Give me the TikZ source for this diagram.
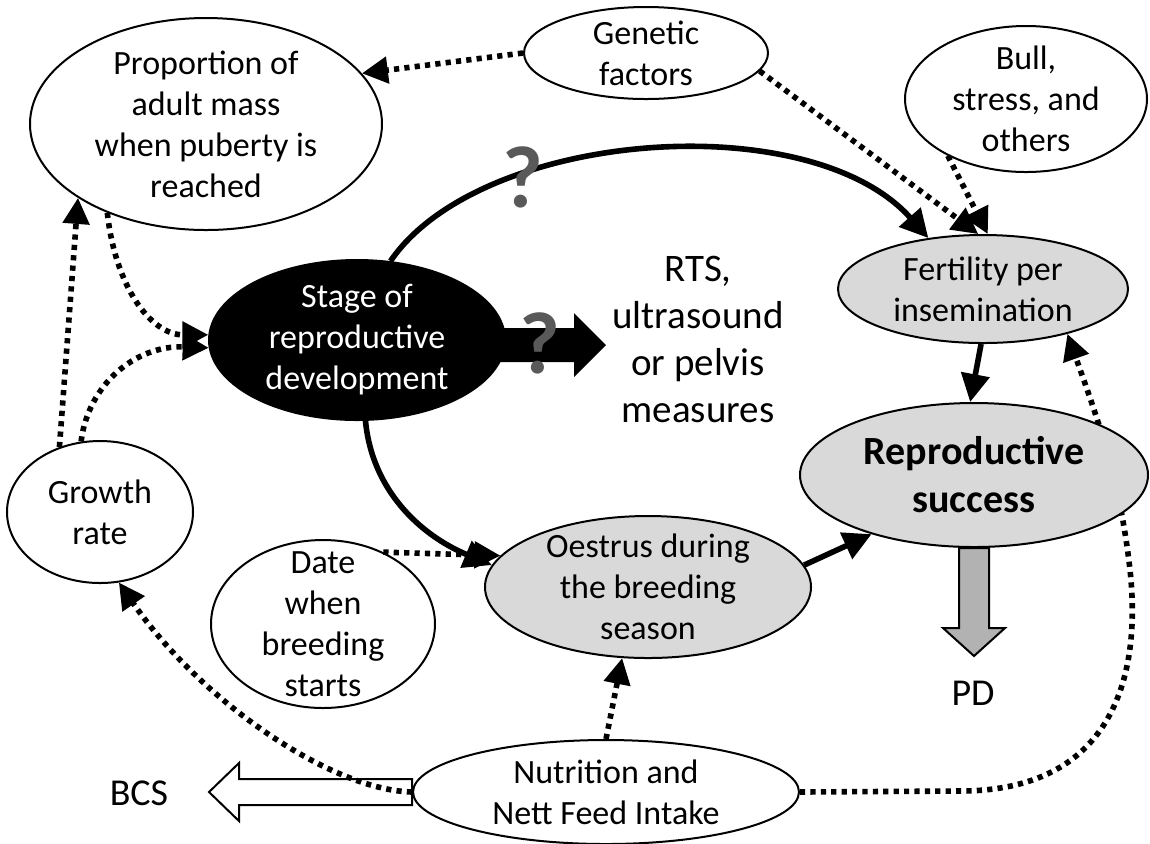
\documentclass[tikz,border=0pt]{standalone}
\usepackage{fontspec}
\setmainfont{Carlito}
\usetikzlibrary{positioning, arrows.meta, shapes.geometric, calc, backgrounds}

\begin{document}
\begin{tikzpicture}[
  x=0.5pt, y=0.5pt,
  every node/.style={align=center, font=\fontsize{17}{20.5}\selectfont},
  oval/.style={ellipse, draw, line width=1pt, fill=white, inner sep=-20pt},
  shaded/.style={oval, fill=black!15},
  arrow/.style={-{Triangle[length=14pt,width=14pt]}, line width=2.8pt},
  dotarrow/.style={-{Triangle[length=13pt,width=13pt]}, line width=2.8pt, dash pattern=on 2.6pt off 2.6pt},
  qmark/.style={font=\fontsize{44}{44}\selectfont\bfseries, text=black!65}
]
\useasboundingbox (0,0) rectangle (1150,-843);

\node[oval, minimum width=176pt, minimum height=106pt] (prop) at (206,-124) {Proportion of\\adult mass\\when puberty is\\reached};
\node[oval, minimum width=122pt, minimum height=46pt] (gen) at (646,-53) {Genetic\\factors};
\node[oval, minimum width=121pt, minimum height=73pt] (bull) at (1026,-99) {Bull,\\stress, and\\others};
\node[shaded, minimum width=145pt, minimum height=54pt] (fert) at (983,-289) {Fertility per\\insemination};
\node[shaded, minimum width=174pt, minimum height=72pt, font=\fontsize{20}{24}\selectfont\bfseries] (succ) at (974,-475) {Reproductive\\success};
\node[oval, fill=black, text=white, minimum width=148pt, minimum height=80pt] (stage) at (357,-340) {Stage of\\reproductive\\development};
\node[shaded, minimum width=163pt, minimum height=71pt] (oest) at (648,-587) {Oestrus during\\the breeding\\season};
\node[oval, minimum width=93pt, minimum height=71pt] (grow) at (100,-512) {Growth\\rate};
\node[oval, minimum width=112pt, minimum height=84pt] (date) at (323,-624) {Date\\when\\breeding\\starts};
\node[oval, minimum width=193pt, minimum height=52pt] (nutr) at (606,-792) {Nutrition and\\Nett Feed Intake};

\node[font=\fontsize{19.5}{23.5}\selectfont] (rts) at (698,-339) {RTS,\\ultrasound\\or pelvis\\measures};
\node[font=\fontsize{19}{23}\selectfont] (bcs) at (139,-793) {BCS};
\node[font=\fontsize{19}{23}\selectfont] (pd) at (973,-693) {PD};

\begin{scope}[on background layer]
\draw[dotarrow] (nutr.east) -- (960,-791) .. controls (1110,-791) and (1142,-680) .. (1130,-570) .. controls (1120,-480) and (1098,-420) .. (fert.-28);
\end{scope}

\fill ($(stage.east)+(-10,12)$) -- ++(78,0) -- ++(0,15) -- ++(32,-32) -- ++(-32,-32) -- ++(0,15) -- ++(-78,0) -- cycle;
\draw[line width=1pt, fill=black!30] ($(succ.south)+(-15,0)$) -- ++(0,-80) -- ++(-16,0) -- ++(31,-28) -- ++(31,28) -- ++(-16,0) -- ++(0,80) -- cycle;
\draw[line width=1pt, fill=white] ($(nutr.west)+(0,13)$) -- ++(-173,0) -- ++(0,16) -- ++(-30,-29) -- ++(30,-29) -- ++(0,16) -- ++(173,0) -- cycle;

\draw[arrow] (stage.67) .. controls (480,-130) and (810,-105) .. (fert.137);
\draw[arrow] (stage.276) .. controls (372,-490) and (420,-535) .. (oest.172);
\draw[arrow] (oest.8) -- (succ.210);
\draw[arrow] (fert.268) -- (succ.93);

\draw[dotarrow] (gen.180) -- (prop.18);
\draw[dotarrow] (gen.-9) -- (fert.95);
\draw[dotarrow] (bull.216) -- (fert.85);
\draw[dotarrow] (date.50) -- (oest.168);
\draw[dotarrow] (nutr.north) -- (oest.250);
\draw[dotarrow] (nutr.west) .. controls (330,-790) and (200,-700) .. (grow.-75);
\draw[dotarrow] (grow.122) -- (prop.210);
\draw[dotarrow] (prop.222) .. controls (115,-285) and (150,-335) .. (stage.178);
\draw[dotarrow] (grow.105) .. controls (88,-385) and (135,-345) .. (stage.183);

\node[qmark] (q1) at (523,-177) {?};
\node[qmark] (q2) at (540,-343) {?};
\end{tikzpicture}
\end{document}
